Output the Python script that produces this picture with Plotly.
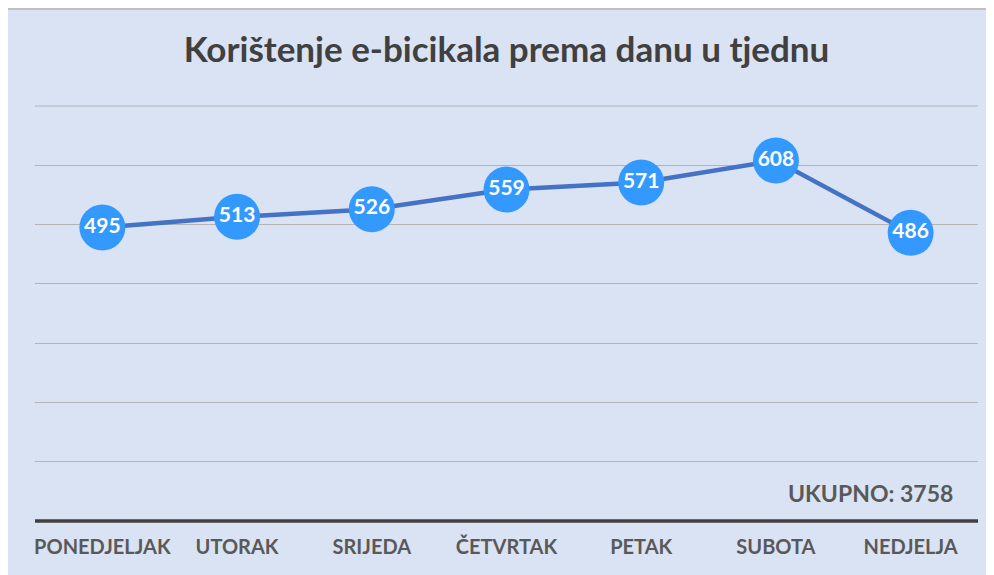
import plotly.graph_objects as go

days = ["PONEDJELJAK", "UTORAK", "SRIJEDA", "ČETVRTAK", "PETAK", "SUBOTA", "NEDJELJA"]
usage = [495, 513, 526, 559, 571, 608, 486]
total_label = "UKUPNO: 3758"
title = "Korištenje e-bicikala prema danu u tjednu"

# page has an 8px body margin, so the figure is 8px smaller than the window
W, H = 986, 567
ml, mr, mt, mb = 27, 16, 98, 54
pw = W - ml - mr
ph = H - mt - mb

fig = go.Figure()
fig.add_trace(go.Scatter(
    x=days, y=usage, mode="lines+markers+text",
    line=dict(color="#4472C4", width=4.5),
    marker=dict(size=46, color="#3399FF", line=dict(width=0)),
    text=[str(v) for v in usage], textposition="middle center",
    textfont=dict(family="Lato", size=21, color="white", weight="bold"),
    cliponaxis=False, hoverinfo="skip",
))

fig.update_layout(
    width=W, height=H,
    margin=dict(l=ml, r=mr, t=mt, b=mb),
    paper_bgcolor="#DAE3F3", plot_bgcolor="rgba(0,0,0,0)",
    showlegend=False,
    title=dict(text=title, x=0.5, xanchor="center", xref="paper", y=1 - 42 / H, yanchor="middle",
               font=dict(family="Lato", size=35, color="#404040", weight="bold")),
    xaxis=dict(range=[-0.5, 6.5], showgrid=False, zeroline=False, showline=False,
               ticks="", ticklabelstandoff=12,
               tickfont=dict(family="Lato", size=20, color="#595959", weight="bold"),
               fixedrange=True),
    yaxis=dict(range=[0, 700], dtick=100, showgrid=True, gridcolor="#B4B4B4", gridwidth=1,
               zeroline=False, showticklabels=False, fixedrange=True),
    shapes=[
        dict(type="line", xref="paper", yref="paper", layer="below",
             x0=-ml / pw, x1=(W - ml) / pw, y0=1 + (mt - 1) / ph, y1=1 + (mt - 1) / ph,
             line=dict(color="#C0C0C0", width=2)),
        dict(type="line", xref="paper", yref="paper", layer="below", x0=0, x1=1, y0=1, y1=1,
             line=dict(color="#B4B4B4", width=1)),
        dict(type="line", xref="paper", yref="paper", x0=0, x1=1, y0=0, y1=0,
             line=dict(color="#404040", width=3.5)),
    ],
    annotations=[dict(text=total_label, xref="paper", yref="y", x=(947 - ml) / pw, y=0,
                      xanchor="right", yanchor="middle", yshift=28, showarrow=False,
                      font=dict(family="Lato", size=23, color="#595959", weight="bold"))],
)

fig.write_html("out.html")
